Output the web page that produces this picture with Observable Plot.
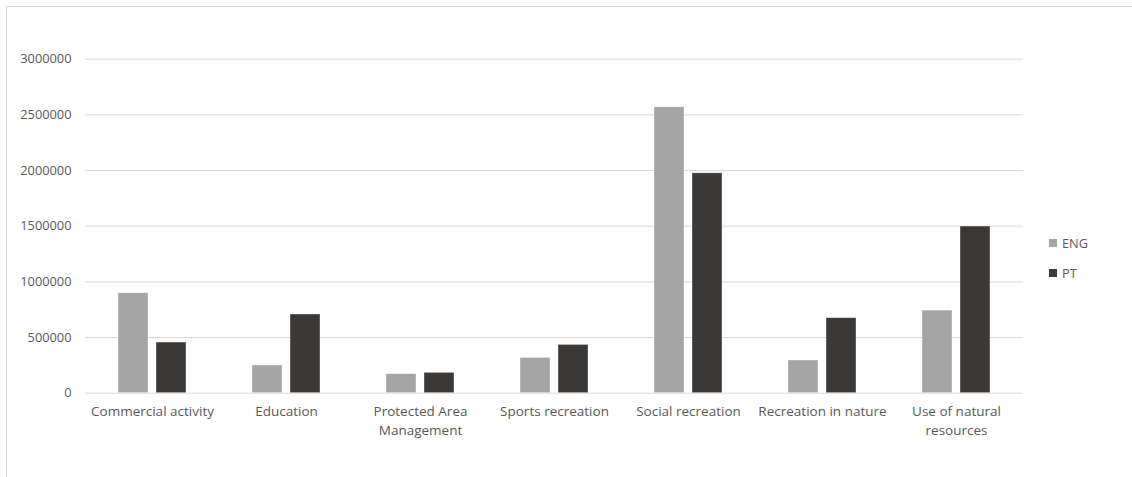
<!DOCTYPE html>
<html>
<head>
<meta charset="utf-8">
<script src="https://cdn.jsdelivr.net/npm/d3@7"></script>
<script src="https://cdn.jsdelivr.net/npm/@observablehq/plot@0.6"></script>
<style>
  body { margin: 0; background: #ffffff; font-family: "Open Sans", "Noto Sans", sans-serif; }
  #wrap { position: relative; width: 1132px; height: 477px; overflow: hidden; }
  #frame { position: absolute; left: 6px; top: 6px; width: 1200px; height: 600px;
           border-left: 1px solid #d9d9d9; border-top: 1px solid #d9d9d9; pointer-events: none; }
  #legend { position: absolute; left: 1049px; top: 235px; font-size: 12.8px; color: #595959; }
  .item { display: flex; align-items: center; height: 15px; margin-bottom: 15px; }
  .sw { width: 8px; height: 8px; margin-right: 5px; }
  #chart svg { display: block; }
</style>
</head>
<body>
<div id="wrap">
  <div id="chart"></div>
  <div id="legend"></div>
  <div id="frame"></div>
</div>
<script>
const categories = [
  "Commercial activity",
  "Education",
  "Protected Area\nManagement",
  "Sports recreation",
  "Social recreation",
  "Recreation in nature",
  "Use of natural\nresources"
];
const seriesNames = ["ENG", "PT"];
const engValues = [898000, 249000, 171000, 317000, 2568000, 294000, 742000];
const ptValues  = [455000, 707000, 183000, 434000, 1975000, 674000, 1497000];
const seriesColors = ["#a5a5a5", "#3a3938"];
const yTicks = [0, 500000, 1000000, 1500000, 2000000, 2500000, 3000000];

const data = categories.flatMap((c, i) => [
  {category: c, series: "ENG", value: engValues[i]},
  {category: c, series: "PT", value: ptValues[i]}
]);

const chart = Plot.plot({
  width: 1132,
  height: 477,
  marginLeft: 85,
  marginRight: 109,
  marginTop: 58.7,
  marginBottom: 84.3,
  style: {fontFamily: "'Open Sans', 'Noto Sans', sans-serif", fontSize: "12.8px", background: "transparent", color: "#595959"},
  fx: {domain: categories, padding: 0, label: null},
  x: {domain: seriesNames, paddingInner: 0.209, paddingOuter: 0.858, axis: null},
  y: {domain: [0, 3000000], axis: null},
  color: {domain: seriesNames, range: seriesColors},
  marks: [
    Plot.ruleY(yTicks, {stroke: "#d9d9d9", strokeWidth: 1}),
    Plot.barY(data, {fx: "category", x: "series", y: "value", fill: "series",
                     stroke: "#ffffff", strokeOpacity: 0.5, strokeWidth: 0.75}),
    Plot.axisY({ticks: yTicks, tickSize: 0, tickPadding: 14, tickFormat: d => String(d),
                label: null, fill: "#595959"}),
    Plot.axisFx({anchor: "bottom", tickSize: 0, tickPadding: 9, label: null, lineHeight: 1.4,
                 fill: "#595959", fontSize: 13.5})
  ]
});
document.getElementById("chart").appendChild(chart);

const legend = document.getElementById("legend");
seriesNames.forEach((s, i) => {
  const item = document.createElement("div");
  item.className = "item";
  const sw = document.createElement("div");
  sw.className = "sw";
  sw.style.background = seriesColors[i];
  const label = document.createElement("span");
  label.textContent = s;
  item.appendChild(sw);
  item.appendChild(label);
  legend.appendChild(item);
});
</script>
</body>
</html>
